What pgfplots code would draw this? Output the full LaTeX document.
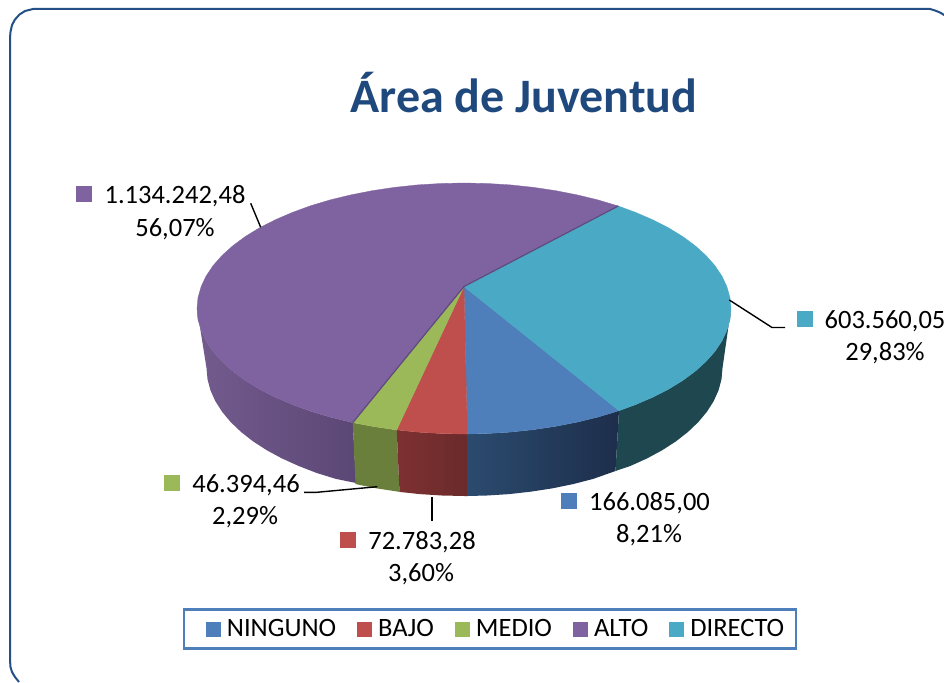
\documentclass[border=0pt]{standalone}
\usepackage{pgfplots}
\pgfplotsset{compat=1.18}
\usepackage{fontspec}
\setmainfont{Carlito}
\definecolor{cBlue}{HTML}{4F7FBB}
\definecolor{cRed}{HTML}{BE4F4C}
\definecolor{cGreen}{HTML}{9BB958}
\definecolor{cPurple}{HTML}{7F62A0}
\definecolor{cTeal}{HTML}{4AA9C4}
\definecolor{cTitle}{HTML}{1F497D}
\definecolor{cFrame}{HTML}{245087}
\definecolor{wPurpleA}{HTML}{735B8E}
\definecolor{wPurpleB}{HTML}{5B4775}
\definecolor{wGreen}{HTML}{6B7F3C}
\definecolor{wRedA}{HTML}{7D3130}
\definecolor{wRedB}{HTML}{6B2A2C}
\definecolor{wBlueA}{HTML}{2B4B6E}
\definecolor{wBlueB}{HTML}{1D2E4B}
\definecolor{wTeal}{HTML}{1F4750}
\definecolor{cEdge}{HTML}{5F4A7E}
\pgfplotsset{firstkey/.style={legend image code/.code={\path (-12pt,0pt); \path[##1,draw=none] (0pt,-7.5pt) rectangle (15pt,7.5pt);}}}
\begin{document}
\begin{tikzpicture}
\begin{axis}[
  name=ax,
  scale only axis, width=944pt, height=682pt,
  xmin=0, xmax=944, ymin=0, ymax=682, y dir=reverse,
  hide axis, clip=true,
  legend columns=5,
  legend image code/.code={\path[#1,draw=none] (0pt,-7.5pt) rectangle (15pt,7.5pt);},
  legend style={at={(axis cs:490,629)},anchor=center,draw=cBlue,line width=2.4pt,
    font=\fontsize{26.5}{26.5}\selectfont, inner xsep=10pt, inner ysep=8pt,
    /tikz/every odd column/.append style={column sep=4pt},
    /tikz/every even column/.append style={column sep=19pt}},
]
% chart frame
\addplot[forget plot,cFrame,line width=2pt,no marks] coordinates {(19,682)(15,677)(12,672)(10.5,667)(10,660)(10,38)(10.5,32)(12,25)(15,19.5)(19.5,14.5)(25,11)(33,9)(930,9)(935,10.5)(940,12.5)(945,15.5)};
% walls
\addplot[forget plot,draw=none,left color=wPurpleA,right color=wPurpleB] coordinates {(197,308.5)(198,319.4)(201.1,330.3)(206.1,341)(213.1,351.4)(222,361.5)(232.8,371.25)(245.3,380.5)(259.5,389.2)(275.2,397.2)(292.4,404.6)(310.8,411.3)(330.5,417.2)(351.2,422.2)(352.8,422.6)(356,483)(335.5,478.8)(316.5,472.9)(298.7,466)(282.1,458.5)(266.9,450.3)(253.1,441.4)(241.1,432)(230.7,422.1)(222.1,411.8)(215.3,401.1)(210.4,390.2)(207.5,379.2)(206.5,368)} --cycle;
\addplot[forget plot,draw=none,fill=wGreen] coordinates {(352.8,422.6)(372.7,426.4)(394.9,429.7)(396.7,429.9)(399.5,491.9)(397.7,491.6)(376.3,488.3)(357.1,484.4)(355.5,484)} --cycle;
\addplot[forget plot,draw=none,left color=wRedA,right color=wRedB] coordinates {(396.7,429.9)(417.6,432.1)(440.7,433.5)(464,434)(467.3,434)(467.6,496)(464.5,496)(442,495.5)(419.7,494.1)(399.5,491.9)} --cycle;
\addplot[forget plot,draw=none,left color=wBlueA,right color=wBlueB] coordinates {(467.3,434)(487.3,433.5)(510.4,432.1)(533.1,429.7)(555.3,426.4)(576.8,422.2)(597.5,417.2)(619,410.7)(615.5,471)(593.5,478.8)(573.5,484)(552.7,488.3)(531.3,491.6)(509.3,494.1)(487,495.5)(467.6,496)} --cycle;
\addplot[forget plot,draw=none,fill=wTeal] coordinates {(619,410.7)(635.6,404.6)(652.8,397.2)(668.5,389.2)(682.7,380.5)(695.2,371.25)(706,361.5)(714.9,351.4)(721.9,341)(726.9,330.3)(730,319.4)(731,308.5)(722.5,368)(721.5,379.2)(718.6,390.2)(713.7,401.1)(706.9,411.8)(698.3,422.1)(687.9,432)(675.9,441.4)(662.1,450.3)(646.9,458.5)(630.3,466)(615.5,471)} --cycle;
% top faces
\addplot[fill=cBlue,draw=cBlue,line width=.3pt,firstkey] coordinates {(464,286.5)(619,410.7)(597.5,417.2)(576.8,422.2)(555.3,426.4)(533.1,429.7)(510.4,432.1)(487.3,433.5)(467.3,434)} --cycle;
\addplot[fill=cRed,draw=cRed,line width=.3pt] coordinates {(464,286.5)(467.3,434)(464,434)(440.7,433.5)(417.6,432.1)(396.7,429.9)} --cycle;
\addplot[fill=cGreen,draw=cGreen,line width=.3pt] coordinates {(464,286.5)(396.7,429.9)(394.9,429.7)(372.7,426.4)(352.8,422.6)} --cycle;
\addplot[fill=cPurple,draw=cPurple,line width=.3pt] coordinates {(464,286.5)(352.8,422.6)(351.2,422.2)(330.5,417.2)(310.8,411.3)(292.4,404.6)(275.2,397.2)(259.5,389.2)(245.3,380.5)(232.8,371.25)(222,361.5)(213.1,351.4)(206.1,341)(201.1,330.3)(198,319.4)(197,308.5)(198,297.6)(201.1,286.7)(206.1,276)(213.1,265.6)(222,255.5)(232.8,245.75)(245.3,236.5)(259.5,227.8)(275.2,219.8)(292.4,212.4)(310.8,205.7)(330.5,199.8)(351.2,194.8)(372.7,190.6)(394.9,187.3)(417.6,184.9)(440.7,183.5)(464,183)(487.3,183.5)(510.4,184.9)(533.1,187.3)(555.3,190.6)(576.8,194.8)(597.5,199.8)(618.3,206)} --cycle;
\addplot[fill=cTeal,draw=cTeal,line width=.3pt] coordinates {(464,286.5)(618.3,206)(635.6,212.4)(652.8,219.8)(668.5,227.8)(682.7,236.5)(695.2,245.75)(706,255.5)(714.9,265.6)(721.9,276)(726.9,286.7)(730,297.6)(731,308.5)(730,319.4)(726.9,330.3)(721.9,341)(714.9,351.4)(706,361.5)(695.2,371.25)(682.7,380.5)(668.5,389.2)(652.8,397.2)(635.6,404.6)(619,410.7)} --cycle;
\legend{NINGUNO,BAJO,MEDIO,ALTO,DIRECTO}
% purple edges
\addplot[forget plot,no marks,cEdge,line width=1.2pt] coordinates {(618.3,206)(464,286.5)(352.8,422.6)};
% leader lines
\addplot[forget plot,no marks,black,line width=1.4pt] coordinates {(250.7,203.3)(260.7,227.3)};
\addplot[forget plot,no marks,black,line width=1.4pt] coordinates {(729.3,300)(772,327.5)(785,327.5)};
\addplot[forget plot,no marks,black,line width=1.4pt] coordinates {(304,492.3)(316.7,492.3)(377.3,486.7)};
\addplot[forget plot,no marks,black,line width=1.2pt] coordinates {(432,497)(432,521)};
% label keys
\addplot[forget plot,only marks,mark=square*,mark size=7.5pt,mark options={draw=cPurple,fill=cPurple,line width=0pt}] coordinates {(83.5,193.5)};
\addplot[forget plot,only marks,mark=square*,mark size=7.5pt,mark options={draw=cTeal,fill=cTeal,line width=0pt}] coordinates {(804.5,318.5)};
\addplot[forget plot,only marks,mark=square*,mark size=7.5pt,mark options={draw=cBlue,fill=cBlue,line width=0pt}] coordinates {(568.5,501)};
\addplot[forget plot,only marks,mark=square*,mark size=7.5pt,mark options={draw=cRed,fill=cRed,line width=0pt}] coordinates {(347.5,539.5)};
\addplot[forget plot,only marks,mark=square*,mark size=7.5pt,mark options={draw=cGreen,fill=cGreen,line width=0pt}] coordinates {(171.5,482.5)};
% texts
\node[anchor=base,inner sep=0pt,text=cTitle,font=\fontsize{48}{48}\selectfont\bfseries] at (axis cs:524,112.5) {Área de Juventud};
\begin{scope}[every node/.style={anchor=base,font=\fontsize{26.5}{26.5}\selectfont,text=black,inner sep=0pt}]
\node at (axis cs:175,203.3) {1.134.242,48};
\node at (axis cs:175,236.2) {56,07\%};
\node at (axis cs:885,328) {603.560,05};
\node at (axis cs:885,360.5) {29,83\%};
\node at (axis cs:649.5,510) {166.085,00};
\node at (axis cs:649,542) {8,21\%};
\node at (axis cs:422,549) {72.783,28};
\node at (axis cs:421,581) {3,60\%};
\node at (axis cs:246,492.5) {46.394,46};
\node at (axis cs:245,524.5) {2,29\%};
\end{scope}
\end{axis}
\pgfresetboundingbox
\useasboundingbox (ax.south west) rectangle (ax.north east);
\end{tikzpicture}
\end{document}
